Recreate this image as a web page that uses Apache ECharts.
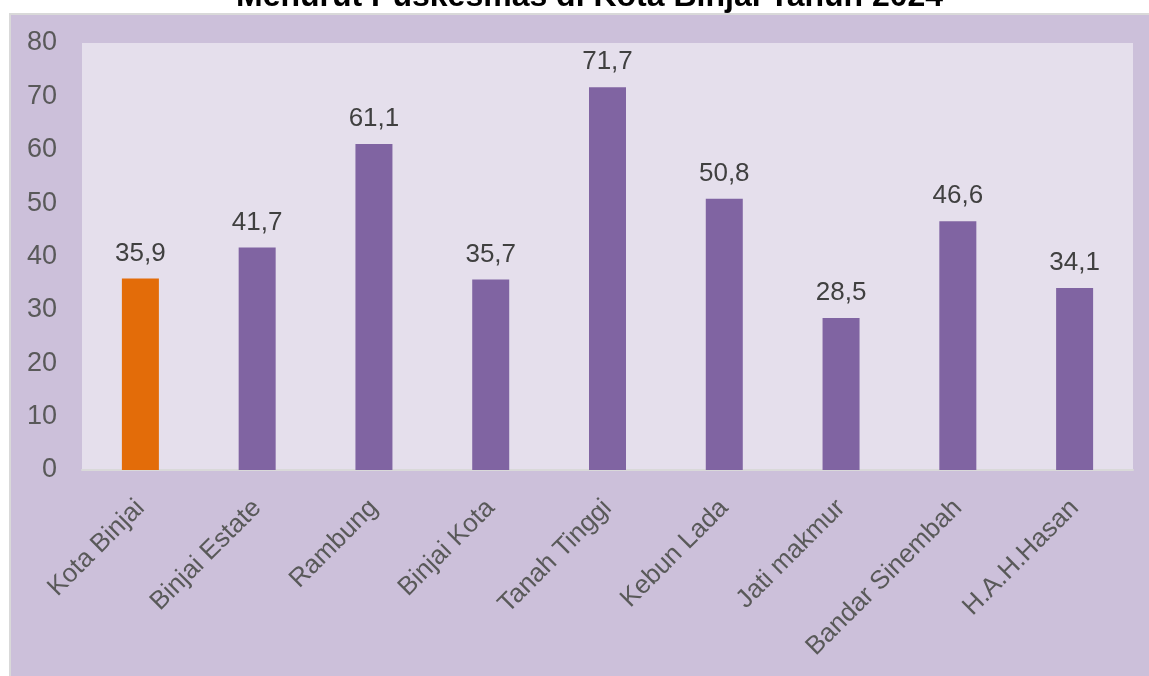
<!DOCTYPE html>
<html>
<head>
<meta charset="utf-8">
<script src="https://cdn.jsdelivr.net/npm/echarts@6/dist/echarts.min.js"></script>
<style>
  html, body { margin: 0; padding: 0; background: #ffffff; }
  #chart { width: 1149px; height: 676px; }
</style>
</head>
<body>
<div id="chart"></div>
<script>
// Puskesmas names and their values
const categories = ['Kota Binjai', 'Binjai Estate', 'Rambung', 'Binjai Kota', 'Tanah Tinggi', 'Kebun Lada', 'Jati makmur', 'Bandar Sinembah', 'H.A.H.Hasan'];
const values = [35.9, 41.7, 61.1, 35.7, 71.7, 50.8, 28.5, 46.6, 34.1];
const titleText = 'Menurut Puskesmas di Kota Binjai Tahun 2024';

const FONT = '"Liberation Sans", Arial, sans-serif';
const PURPLE = '#8064A2';
const ORANGE = '#E36C09';

const chart = echarts.init(document.getElementById('chart'), null, { renderer: 'canvas' });

chart.setOption({
  backgroundColor: '#ffffff',
  animation: false,
  title: {
    text: titleText,
    left: 231,
    top: -24,
    textStyle: { fontFamily: FONT, fontSize: 32, fontWeight: 'bold', color: '#000000' }
  },
  graphic: [{
    type: 'rect',
    z: -10,
    silent: true,
    shape: { x: 10, y: 14, width: 1150, height: 670 },
    style: { fill: '#CCC0DA', stroke: '#D9D9D9', lineWidth: 2 }
  }],
  grid: {
    left: 82, right: 16, top: 43, bottom: 206,
    show: true, backgroundColor: '#E5DFEC', borderWidth: 0
  },
  xAxis: {
    type: 'category',
    data: categories,
    axisLine: { show: true, lineStyle: { color: '#D9D9D9', width: 2 } },
    axisTick: { show: false },
    axisLabel: {
      rotate: 45, interval: 0, margin: 34,
      color: '#595959', fontFamily: FONT, fontSize: 26
    }
  },
  yAxis: {
    type: 'value',
    min: 0, max: 80, interval: 10,
    splitLine: { show: false },
    axisLine: { show: false },
    axisTick: { show: false },
    axisLabel: { margin: 25, color: '#595959', fontFamily: FONT, fontSize: 27 }
  },
  series: [{
    type: 'bar',
    data: values.map((v, i) => ({ value: v, itemStyle: { color: i === 0 ? ORANGE : PURPLE } })),
    barWidth: 37,
    label: {
      show: true, position: 'top', distance: 12,
      color: '#404040', fontFamily: FONT, fontSize: 26,
      formatter: p => String(p.value).replace('.', ',')
    }
  }]
});
</script>
</body>
</html>
